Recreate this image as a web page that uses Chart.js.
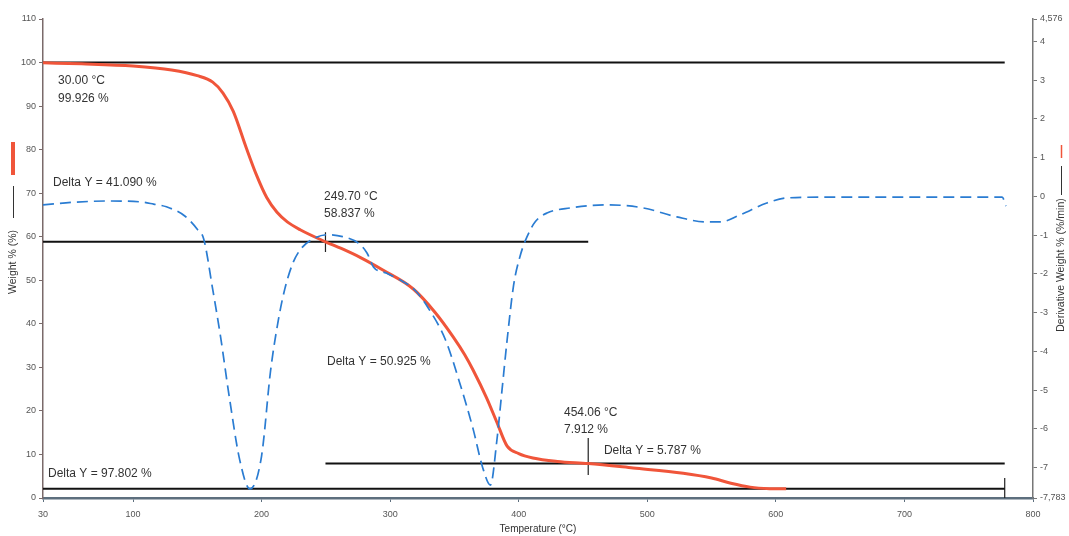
<!DOCTYPE html>
<html>
<head>
<meta charset="utf-8">
<script src="https://cdn.jsdelivr.net/npm/chart.js@4.4.1/dist/chart.umd.min.js"></script>
<style>
  html, body { margin: 0; padding: 0; background: #fff; }
  #wrap { width: 1069px; height: 536px; }
</style>
</head>
<body>
<div id="wrap"><canvas id="tga" width="1069" height="536"></canvas></div>
<script>
// TGA curve: temperature (°C) vs weight (%)
const weightTemp = [30, 60, 100, 130, 150, 162, 170, 178, 188, 196, 204, 212, 220, 230, 249.7, 262, 277, 294, 318, 335, 349, 358, 364.5, 375, 383, 391, 400, 411, 430, 454.06, 489, 528, 550, 565, 580, 595, 608];
const weightPct = [99.93, 99.7, 99.2, 98.3, 97.0, 95.5, 93.0, 88.8, 80.5, 74.2, 69.0, 65.6, 63.4, 61.6, 58.84, 57.3, 55.2, 52.4, 48.0, 42.6, 37.0, 32.9, 29.4, 23.0, 17.4, 11.9, 10.2, 9.2, 8.4, 7.91, 6.9, 5.7, 4.6, 3.4, 2.5, 2.15, 2.1];

// DTG curve: derivative weight (%/min)
const derivTemp = [30, 55, 80, 105, 116, 126, 140, 150, 155, 162, 168, 175, 183, 191, 200, 207, 213, 218, 224, 230, 240, 251, 263, 275, 282, 287, 297, 308, 319, 330, 343, 354, 364.5, 372, 378, 383, 387, 391, 396, 401, 406.5, 413, 422, 440, 470, 497, 523, 546, 557, 572, 593, 609, 640, 700, 776, 779];
const derivRate = [-0.22, -0.15, -0.12, -0.14, -0.2, -0.27, -0.5, -0.85, -1.1, -2.4, -3.6, -5.2, -6.8, -7.55, -6.7, -4.5, -3.2, -2.4, -1.75, -1.38, -1.1, -0.99, -1.04, -1.2, -1.46, -1.82, -1.98, -2.16, -2.41, -2.9, -3.7, -4.8, -6.0, -7.0, -7.45, -6.3, -5.0, -3.7, -2.3, -1.55, -1.04, -0.65, -0.43, -0.3, -0.22, -0.3, -0.53, -0.66, -0.66, -0.48, -0.17, -0.04, -0.02, -0.02, -0.02, -0.25];

const xTicks = [30, 100, 200, 300, 400, 500, 600, 700, 800];
const yTicks = [0, 10, 20, 30, 40, 50, 60, 70, 80, 90, 100, 110];
const y2Ticks = [-7.783, -7, -6, -5, -4, -3, -2, -1, 0, 1, 2, 3, 4, 4.576];

// step levels (weight %) with their start / end temperature
const levelY = [100, 58.837, 7.912, 2.124];
const levelFrom = [30, 30, 249.7, 30];
const levelTo = [778, 454.06, 778, 778];

// vertical markers
const markX = [249.7, 454.06, 778];
const markTop = [61, 13.8, 4.6];
const markBottom = [56.5, 5.3, 0];

// annotation texts and their anchors (°C, %)
const labelText = ["30.00 °C", "99.926 %", "Delta Y = 41.090 %", "249.70 °C", "58.837 %", "Delta Y = 50.925 %", "454.06 °C", "7.912 %", "Delta Y = 5.787 %", "Delta Y = 97.802 %"];
const labelX = [41.7, 41.7, 37.8, 248.6, 248.6, 250.9, 435.2, 435.2, 466.3, 33.9];
const labelY = [95.8, 91.6, 72.4, 69.1, 65.2, 31.2, 19.5, 15.6, 10.8, 5.5];

const COL = {
    red: "#f0553a",
    blue: "#2a7cd2",
    black: "#111111",
    text: "#333333",
    tick: "#555555"
};
const FONT = "'Liberation Sans', Arial, sans-serif";

const toPts = (xs, ys) => xs.map((v, i) => ({ x: v, y: ys[i] }));

const blackSets = [];
levelY.forEach((lv, i) => {
    blackSets.push({
        data: [{ x: levelFrom[i], y: lv }, { x: levelTo[i], y: lv }],
        borderColor: COL.black, borderWidth: 2, pointRadius: 0, yAxisID: "y"
    });
});
markX.forEach((mx, i) => {
    blackSets.push({
        data: [{ x: mx, y: markTop[i] }, { x: mx, y: markBottom[i] }],
        borderColor: "#222", borderWidth: 1.2, pointRadius: 0, yAxisID: "y"
    });
});

const labelsPlugin = {
    id: "labelsPlugin",
    afterDatasetsDraw(chart) {
        const { ctx, scales: { x, y } } = chart;
        ctx.save();
        ctx.font = "12px " + FONT;
        ctx.fillStyle = COL.text;
        ctx.textBaseline = "middle";
        labelText.forEach((t, i) => {
            ctx.fillText(t, x.getPixelForValue(labelX[i]), y.getPixelForValue(labelY[i]));
        });
        ctx.restore();
    }
};

const titlesPlugin = {
    id: "titlesPlugin",
    afterDraw(chart) {
        const { ctx } = chart;
        ctx.save();
        ctx.fillStyle = COL.text;
        ctx.font = "10.5px " + FONT;
        ctx.textAlign = "center";
        ctx.textBaseline = "middle";

        // left title
        ctx.save();
        ctx.translate(13, 262);
        ctx.rotate(-Math.PI / 2);
        ctx.fillText("Weight % (%)", 0, 0);
        ctx.restore();
        ctx.strokeStyle = "#333";
        ctx.lineWidth = 1;
        ctx.beginPath(); ctx.moveTo(13.5, 218); ctx.lineTo(13.5, 186); ctx.stroke();
        ctx.strokeStyle = COL.red;
        ctx.lineWidth = 4;
        ctx.beginPath(); ctx.moveTo(13, 175); ctx.lineTo(13, 142); ctx.stroke();

        // right title
        ctx.save();
        ctx.translate(1061, 265);
        ctx.rotate(-Math.PI / 2);
        ctx.fillText("Derivative Weight % (%/min)", 0, 0);
        ctx.restore();
        ctx.strokeStyle = "#333";
        ctx.lineWidth = 1;
        ctx.beginPath(); ctx.moveTo(1061.5, 195); ctx.lineTo(1061.5, 166); ctx.stroke();
        ctx.strokeStyle = COL.red;
        ctx.lineWidth = 1.5;
        ctx.beginPath(); ctx.moveTo(1061.5, 158); ctx.lineTo(1061.5, 145); ctx.stroke();

        // bottom title
        ctx.font = "10px " + FONT;
        ctx.fillText("Temperature (°C)", 538, 529);
        ctx.restore();
    }
};

new Chart(document.getElementById("tga"), {
    type: "scatter",
    data: {
        datasets: [
            {
                data: toPts(derivTemp, derivRate),
                yAxisID: "y2",
                showLine: true,
                borderColor: COL.blue,
                borderWidth: 1.7,
                borderDash: [11, 6],
                pointRadius: 0,
                cubicInterpolationMode: "monotone"
            },
            {
                data: toPts(weightTemp, weightPct),
                yAxisID: "y",
                showLine: true,
                borderColor: COL.red,
                borderWidth: 3,
                pointRadius: 0,
                cubicInterpolationMode: "monotone"
            },
            ...blackSets.map(d => ({ ...d, showLine: true }))
        ]
    },
    options: {
        responsive: false,
        animation: false,
        devicePixelRatio: 1,
        layout: { padding: { top: 19, left: 0, right: 0, bottom: 0 } },
        plugins: { legend: { display: false }, tooltip: { enabled: false } },
        scales: {
            x: {
                type: "linear",
                min: 30, max: 800,
                afterBuildTicks: s => { s.ticks = xTicks.map(v => ({ value: v })); },
                afterFit: s => { s.height = 38; },
                ticks: { color: COL.tick, font: { size: 9, family: FONT }, padding: 7, maxRotation: 0 },
                grid: { drawOnChartArea: false, color: "#5d6f7e", tickLength: 4 },
                border: { color: "#5d6f7e", width: 2.5 }
            },
            y: {
                position: "left",
                min: 0, max: 110,
                afterBuildTicks: s => { s.ticks = yTicks.map(v => ({ value: v })); },
                afterFit: s => { s.width = 43; },
                ticks: { color: COL.tick, font: { size: 9, family: FONT }, padding: 3 },
                grid: { drawOnChartArea: false, color: "#7a6a6a", tickLength: 4 },
                border: { color: "#7a6a6a", width: 1.5 }
            },
            y2: {
                position: "right",
                min: -7.783, max: 4.576,
                afterBuildTicks: s => { s.ticks = y2Ticks.map(v => ({ value: v })); },
                afterFit: s => { s.width = 36; },
                ticks: {
                    color: COL.tick, font: { size: 9, family: FONT }, padding: 3,
                    callback: v => Number.isInteger(v) ? String(v) : String(v).replace(".", ",")
                },
                grid: { drawOnChartArea: false, color: "#777", tickLength: 4 },
                border: { color: "#777", width: 1.5 }
            }
        }
    },
    plugins: [labelsPlugin, titlesPlugin]
});
</script>
</body>
</html>
